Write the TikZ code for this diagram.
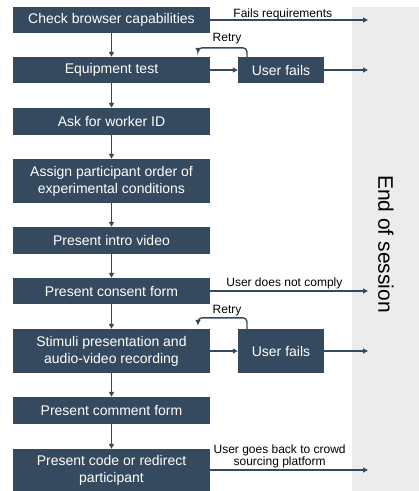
\documentclass[tikz,border=0pt]{standalone}
\usepackage{fontspec}
\setmainfont{Liberation Sans}
\usetikzlibrary{arrows.meta}
\definecolor{boxblue}{HTML}{354A5F}
\definecolor{panelgray}{HTML}{ECECEC}
\tikzset{
  stepbox/.style={fill=boxblue, text=white, minimum width=197pt, inner sep=0pt,
    align=center, font=\fontsize{14}{17}\selectfont},
  failbox/.style={fill=boxblue, text=white, minimum width=86pt, inner sep=0pt,
    align=center, font=\fontsize{14}{17}\selectfont},
  arr/.style={draw=boxblue, line width=1.4pt, -{Triangle[length=5pt,width=5pt]}},
  lbl/.style={font=\fontsize{12}{11}\selectfont, text=black, inner sep=1pt}
}
\begin{document}
\begin{tikzpicture}[x={(1pt,0)}, y={(0,-1pt)}]
\useasboundingbox (0,0) rectangle (419,491);
% end-of-session panel
\fill[panelgray] (352,7) rectangle (419,491);
\node[rotate=-90, font=\fontsize{21}{24}\selectfont] (eos) at (386,244) {End of session};

% main sequence
\node[stepbox, minimum height=26pt] (b1) at (111.5,20) {Check browser capabilities};
\node[stepbox, minimum height=26pt] (b2) at (111.5,70) {Equipment test};
\node[stepbox, minimum height=27pt] (b3) at (111.5,121.5) {Ask for worker ID};
\node[stepbox, minimum height=44pt] (b4) at (111.5,181) {Assign participant order of\\experimental conditions};
\node[stepbox, minimum height=27pt] (b5) at (111.5,240.5) {Present intro video};
\node[stepbox, minimum height=26pt] (b6) at (111.5,291) {Present consent form};
\node[stepbox, minimum height=44pt] (b7) at (111.5,351) {Stimuli presentation and\\audio-video recording};
\node[stepbox, minimum height=27pt] (b8) at (111.5,410.5) {Present comment form};
\node[stepbox, minimum height=42pt] (b9) at (111.5,470) {Present code or redirect\\participant};

% failure boxes
\node[failbox, minimum height=26pt] (u1) at (281,70) {User fails};
\node[failbox, minimum height=44pt] (u2) at (281,351) {User fails};

% exit points inside the panel
\coordinate (ex) at (368,0);

% vertical flow
\foreach \a/\b in {b1/b2,b2/b3,b3/b4,b4/b5,b5/b6,b6/b7,b7/b8,b8/b9}
  \draw[arr] (\a.south) -- (\b.north);

% to failure boxes
\draw[arr] (b2.east) -- (u1.west);
\draw[arr] (b7.east) -- (u2.west);

% retry loops
\draw[arr, rounded corners=4pt] ([xshift=-34pt]u1.north) -- ++(0,-9) -| ([xshift=86.5pt,yshift=4pt]b2.north);
\node[lbl] (r1) at (227,39) {Retry};
\draw[arr, rounded corners=4pt] ([xshift=-34pt]u2.north) -- ++(0,-11) -| ([xshift=86.5pt,yshift=4pt]b7.north);
\node[lbl] (r2) at (227,311) {Retry};

% exits to end of session
\draw[arr] (b1.east) -- (b1.east -| ex) node[lbl, above, pos=0.46, yshift=-2pt] {Fails requirements};
\draw[arr] (u1.east) -- (u1.east -| ex);
\draw[arr] (b6.east) -- (b6.east -| ex) node[lbl, above, pos=0.47] {User does not comply};
\draw[arr] (u2.east) -- (u2.east -| ex);
\draw[arr] (b9.east) -- (b9.east -| ex) node[lbl, above, pos=0.44, align=center, font=\fontsize{12}{11}\selectfont] {User goes back to crowd\\sourcing platform};
\end{tikzpicture}
\end{document}
